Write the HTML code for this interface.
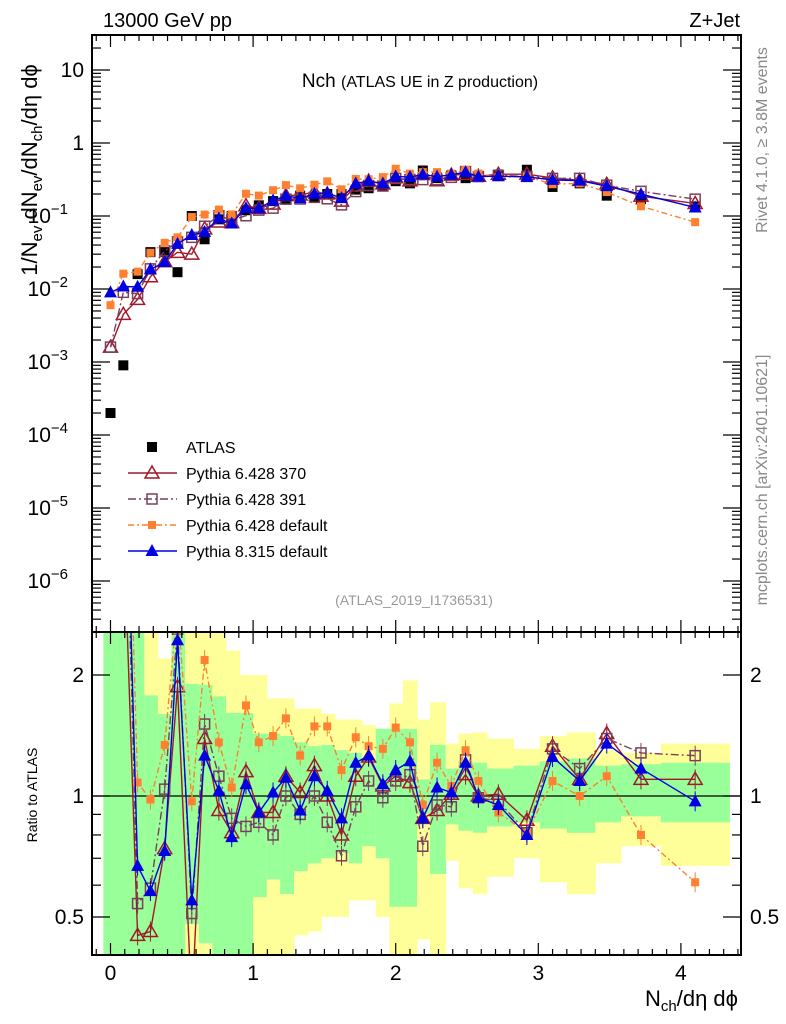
<!DOCTYPE html>
<html><head><meta charset="utf-8"><style>
body{margin:0;background:#fff;}
svg{display:block;font-family:"Liberation Sans",sans-serif;}
</style></head><body>
<svg id="chart" width="786" height="1024" viewBox="0 0 786 1024" xmlns="http://www.w3.org/2000/svg">
<defs>
<clipPath id="clipMain"><rect x="92" y="35" width="649" height="597"/></clipPath>
<clipPath id="clipRatio"><rect x="92" y="632" width="649" height="323"/></clipPath>
</defs>
<g id="bands" clip-path="url(#clipRatio)"></g>
<g id="ratioMarks" clip-path="url(#clipRatio)"></g>
<g id="mainMarks" clip-path="url(#clipMain)"></g>
<g id="axes"></g>
<rect x="92" y="35" width="649" height="597" fill="none" stroke="#000" stroke-width="2"/>
<rect x="92" y="632" width="649" height="323" fill="none" stroke="#000" stroke-width="2"/>
<text x="103" y="27" font-size="20">13000 GeV pp</text>
<text x="740" y="27" font-size="20" text-anchor="end">Z+Jet</text>
<text x="420" y="87" font-size="19" text-anchor="middle">Nch <tspan font-size="16">(ATLAS UE in Z production)</tspan></text>
<text x="414" y="605" font-size="14" fill="#999" text-anchor="middle">(ATLAS_2019_I1736531)</text>
<text transform="translate(767,140) rotate(-90)" font-size="16" fill="#888" text-anchor="middle">Rivet 4.1.0, ≥ 3.8M events</text>
<text transform="translate(767,480) rotate(-90)" font-size="16" fill="#888" text-anchor="middle">mcplots.cern.ch [arXiv:2401.10621]</text>
<text transform="translate(37,170) rotate(-90)" font-size="22" text-anchor="middle">1/N<tspan font-size="15" dy="5">ev</tspan><tspan dy="-5"> dN</tspan><tspan font-size="15" dy="5">ev</tspan><tspan dy="-5">/dN</tspan><tspan font-size="15" dy="5">ch</tspan><tspan dy="-5">/dη dϕ</tspan></text>
<text transform="translate(37,795) rotate(-90)" font-size="14" text-anchor="middle">Ratio to ATLAS</text>
<text x="738" y="1006" font-size="22" text-anchor="end">N<tspan font-size="15" dy="5">ch</tspan><tspan dy="-5">/dη dϕ</tspan></text>
<g id="legend"></g>
</svg>
<script>
const xs = [0,0.09,0.19,0.28,0.38,0.47,0.57,0.66,0.76,0.85,0.95,1.04,1.14,1.23,1.33,1.43,1.52,1.62,1.72,1.81,1.91,2.0,2.1,2.19,2.29,2.39,2.49,2.58,2.72,2.92,3.10,3.29,3.48,3.72,4.10];
const binEdges = [-0.05,0.046,0.141,0.237,0.332,0.428,0.523,0.619,0.714,0.81,0.905,1.0,1.096,1.19,1.287,1.383,1.478,1.574,1.67,1.765,1.86,1.956,2.05,2.15,2.24,2.35,2.44,2.54,2.64,2.826,3.01,3.20,3.40,3.58,3.86,4.34];
const atlas = [2e-4,9e-4,0.016,0.032,0.032,0.017,0.10,0.048,0.09,0.10,0.12,0.14,0.16,0.17,0.19,0.18,0.20,0.20,0.23,0.24,0.26,0.30,0.28,0.42,0.33,0.36,0.33,0.35,0.37,0.43,0.25,0.28,0.19,0.17,0.135];
const ratio370 = [8,5,0.45,0.46,0.74,1.87,0.3,1.39,0.92,0.81,1.15,0.91,0.91,1.12,1.02,1.19,1.0,0.80,1.12,1.25,1.06,1.12,1.08,0.88,0.92,1.01,1.13,1.0,1.01,0.87,1.33,1.10,1.43,1.10,1.10];
const ratio391 = [8,10,0.54,0.59,1.04,2.6,0.51,1.51,1.12,0.88,0.84,0.86,0.80,1.0,0.90,1.0,0.86,0.71,0.94,1.09,0.99,1.09,1.13,0.75,0.95,0.94,1.23,0.99,0.97,0.81,1.31,1.17,1.39,1.28,1.26];
const ratioDef6 = [30,18,1.08,0.98,1.34,3.0,0.97,2.18,1.36,1.05,1.68,1.36,1.41,1.56,1.26,1.49,1.49,1.16,1.40,1.33,1.31,1.48,1.36,0.95,1.21,1.06,1.30,1.09,0.91,0.81,1.09,1.0,1.12,0.80,0.61];
const ratioP8 = [45,12,0.67,0.58,0.73,2.44,0.55,1.26,1.03,0.79,1.07,0.91,1.02,1.11,0.92,1.12,1.03,0.88,1.21,1.26,1.07,1.16,1.22,0.88,1.05,1.02,1.21,0.99,0.95,0.80,1.25,1.09,1.35,1.17,0.97];
const greenLo = [0.3,0.3,0.3,0.3,0.37,0.3,0.48,0.43,0.38,0.38,0.40,0.56,0.62,0.57,0.65,0.68,0.70,0.72,0.68,0.75,0.70,0.53,0.53,0.9,0.64,0.85,0.82,0.81,0.84,0.86,0.83,0.81,0.86,0.89,0.86];
const greenHi = [3,3,3,1.78,1.6,3,1.9,1.89,1.77,1.61,1.61,1.43,1.43,1.41,1.36,1.33,1.34,1.30,1.28,1.21,1.47,1.47,1.47,1.1,1.34,1.17,1.22,1.21,1.17,1.19,1.22,1.24,1.19,1.2,1.21];
const yellowLo = [0.3,0.3,0.3,0.3,0.3,0.3,0.3,0.3,0.3,0.3,0.3,0.3,0.36,0.4,0.45,0.46,0.5,0.5,0.55,0.55,0.5,0.3,0.36,0.44,0.34,0.69,0.59,0.57,0.63,0.70,0.61,0.57,0.68,0.75,0.67];
const yellowHi = [3,3,3,3,2.2,3,3,3,3,2.3,2.0,2.0,1.75,1.75,1.65,1.65,1.6,1.55,1.55,1.5,1.45,1.7,1.94,1.55,1.71,1.35,1.43,1.44,1.39,1.31,1.41,1.44,1.30,1.28,1.35];
const yTickLabels = ["10","1","10","10","10","10","10","10"];
const yTickExps = [null,null,"−1","−2","−3","−4","−5","−6"];
const yTickValues = [10,1,0.1,0.01,1e-3,1e-4,1e-5,1e-6];
const xTickValues = [0,1,2,3,4];
const ratioTickValues = [0.5,1,2];

const NS="http://www.w3.org/2000/svg";
const BOT=955;
function X(v){return 110.5+142.6*v;}
function Y(v){return 143-73*Math.log10(v);}
function R(v){return 796-121*Math.log2(v);}
function mk(tag,attrs,parent){const e=document.createElementNS(NS,tag);for(const k in attrs)e.setAttribute(k,attrs[k]);parent.appendChild(e);return e;}

const bands=document.getElementById('bands');
for(let i=0;i<xs.length;i++){
  const x0=X(binEdges[i]),x1=X(binEdges[i+1]);
  const y=mk('rect',{x:x0,y:R(yellowHi[i]),width:x1-x0+0.5,height:R(yellowLo[i])-R(yellowHi[i]),fill:'#ffff99'},bands);
  
  
  const g=mk('rect',{x:x0,y:R(greenHi[i]),width:x1-x0+0.5,height:R(greenLo[i])-R(greenHi[i]),fill:'#99ff99'},bands);
  
  
}
const one=mk('line',{x1:92,x2:741,y1:R(1),y2:R(1),stroke:'#000','stroke-width':1.3},bands);



function marker(type,cx,cy,color,parent){
  let e;
  if(type==='sqf'){e=mk('rect',{x:cx-5,y:cy-5,width:10,height:10,fill:color},parent);}
  else if(type==='sqs'){e=mk('rect',{x:cx-4,y:cy-4,width:8,height:8,fill:color},parent);}
  else if(type==='sqo'){e=mk('rect',{x:cx-5,y:cy-5,width:10,height:10,fill:'#fff','fill-opacity':0,stroke:color,'stroke-width':1.5},parent);}
  else if(type==='tro'){e=mk('polygon',{points:`${cx},${cy-7} ${cx-7},${cy+5} ${cx+7},${cy+5}`,fill:'none',stroke:color,'stroke-width':1.5},parent);}
  else {e=mk('polygon',{points:`${cx},${cy-7} ${cx-6.5},${cy+5} ${cx+6.5},${cy+5}`,fill:color},parent);}
  return e;
}
const series=[
  {name:'pythia-6-428-370',ratio:ratio370,color:'#a0182a',mark:'tro',dash:''},
  {name:'pythia-6-428-391',ratio:ratio391,color:'#7b3f5a',mark:'sqo',dash:'8,3,2,3'},
  {name:'pythia-6-428-default',ratio:ratioDef6,color:'#ff8030',mark:'sqs',dash:'6,3,2,3'},
  {name:'pythia-8-315-default',ratio:ratioP8,color:'#0000e0',mark:'trf',dash:''}
];
const main=document.getElementById('mainMarks');
const rat=document.getElementById('ratioMarks');
for(let i=0;i<xs.length;i++){
  const m=marker('sqf',X(xs[i]),Y(atlas[i]),'#000',main);
  
  
}
series.forEach(s=>{
  const mp=xs.map((x,i)=>X(x)+','+Y(atlas[i]*s.ratio[i])).join(' ');
  const l=mk('polyline',{points:mp,fill:'none',stroke:s.color,'stroke-width':1.4,'stroke-dasharray':s.dash},main);
  
  
  const rp=xs.map((x,i)=>X(x)+','+R(s.ratio[i])).join(' ');
  const rl=mk('polyline',{points:rp,fill:'none',stroke:s.color,'stroke-width':1.4,'stroke-dasharray':s.dash},rat);
  
  
  for(let i=0;i<xs.length;i++){
    const m=marker(s.mark,X(xs[i]),Y(atlas[i]*s.ratio[i]),s.color,main);
    
    
    const eb=mk('line',{x1:X(xs[i]),x2:X(xs[i]),y1:R(s.ratio[i])-10,y2:R(s.ratio[i])+10,stroke:s.color,'stroke-width':1},rat);
    
    
    const rm=marker(s.mark,X(xs[i]),R(s.ratio[i]),s.color,rat);
    
    
  }
});

const ax=document.getElementById('axes');
function tick(x1,y1,x2,y2){const t=mk('line',{x1,y1,x2,y2,stroke:'#000','stroke-width':1.2},ax);}
for(let d=-7;d<=1;d++){
  for(let k=1;k<10;k++){
    const v=k*Math.pow(10,d);const y=Y(v);
    if(y<36||y>631)continue;
    const L=k===1?18:9;
    tick(92,y,92+L,y);tick(741,y,741-L,y);
  }
}
yTickValues.forEach((v,i)=>{
  const t=mk('text',{x:84,y:Y(v)+7,'font-size':21,'text-anchor':'end'},ax);
  t.textContent=yTickLabels[i];
  if(yTickExps[i]){t.setAttribute('x',68);const s=mk('tspan',{'font-size':15,dy:-9},t);s.textContent=yTickExps[i];}
  
  
});
for(let k=-1;k<=44;k++){
  const v=k/10;const x=X(v);if(x<93||x>740)continue;
  const L=(k%10===0)?12:6;
  tick(x,35,x,35+L);tick(x,632,x,632-L);tick(x,632,x,632+L);tick(x,BOT,x,BOT-L);
}
xTickValues.forEach(v=>{
  const t=mk('text',{x:X(v),y:980,'font-size':21,'text-anchor':'middle'},ax);
  t.textContent=String(v);
  
  
});
[0.4,0.5,0.6,0.7,0.8,0.9,1,2].forEach(v=>{const y=R(v);if(y<633||y>BOT-1)return;const L=(v===0.5||v===1||v===2)?18:9;tick(92,y,92+L,y);tick(741,y,741-L,y);});
ratioTickValues.forEach(v=>{
  const t=mk('text',{x:84,y:R(v)+7,'font-size':21,'text-anchor':'end'},ax);
  t.textContent=String(v);
  
  
  const t2=mk('text',{x:750,y:R(v)+7,'font-size':21},ax);
  t2.textContent=String(v);
  
  
});

const lg=document.getElementById('legend');
const entries=[{label:'ATLAS',mark:'sqf',color:'#000',dash:null},
 {label:'Pythia 6.428 370',mark:'tro',color:'#a0182a',dash:''},
 {label:'Pythia 6.428 391',mark:'sqo',color:'#7b3f5a',dash:'8,3,2,3'},
 {label:'Pythia 6.428 default',mark:'sqs',color:'#ff8030',dash:'6,3,2,3'},
 {label:'Pythia 8.315 default',mark:'trf',color:'#0000e0',dash:''}];
entries.forEach((e,i)=>{
  const y=447+26*i;
  if(e.dash!==null){const l=mk('line',{x1:128,x2:177,y1:y,y2:y,stroke:e.color,'stroke-width':1.4,'stroke-dasharray':e.dash},lg);}
  const m=marker(e.mark,152,y,e.color,lg);
  
  
  const t=mk('text',{x:186,y:y+6,'font-size':16},lg);
  t.textContent=e.label;
  
  
});
</script>
</body></html>
